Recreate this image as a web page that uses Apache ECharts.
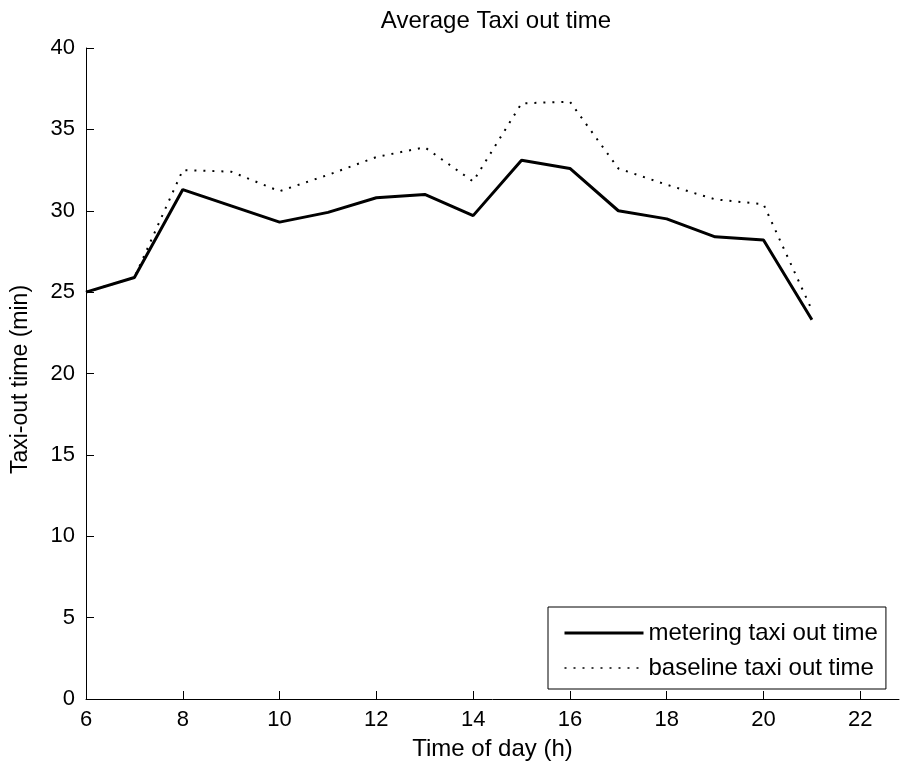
<!DOCTYPE html>
<html>
<head>
<meta charset="utf-8">
<script src="https://cdn.jsdelivr.net/npm/echarts@6/dist/echarts.min.js"></script>
<style>
  html, body { margin: 0; padding: 0; background: #fff; }
  #main { width: 903px; height: 767px; }
</style>
</head>
<body>
<div id="main"></div>
<script>
var hours = [6, 7, 8, 9, 10, 11, 12, 13, 14, 15, 16, 17, 18, 19, 20, 21];
var metering = [25.0, 25.9, 31.3, 30.3, 29.3, 29.9, 30.8, 31.0, 29.7, 33.1, 32.6, 30.0, 29.5, 28.4, 28.2, 23.3];
var baseline = [25.0, 25.9, 32.5, 32.4, 31.2, 32.2, 33.3, 33.9, 31.8, 36.6, 36.7, 32.6, 31.6, 30.7, 30.4, 23.9];
var xTicks = [6, 8, 10, 12, 14, 16, 18, 20, 22];

var font = "'Liberation Sans', Arial, sans-serif";

function pairs(xs, ys) {
    var res = [];
    for (var i = 0; i < xs.length; i++) {
        res.push([xs[i], ys[i]]);
    }
    return res;
}

var myChart = echarts.init(document.getElementById('main'));

var option = {
    animation: false,
    backgroundColor: '#fff',
    title: {
        text: 'Average Taxi out time',
        left: 491,
        top: 4,
        textAlign: 'center',
        textStyle: { fontFamily: font, fontSize: 24, fontWeight: 'normal', color: '#000' }
    },
    grid: { left: 86, right: 4, top: 48, bottom: 68 },
    legend: {
        left: 548,
        top: 607,
        orient: 'vertical',
        backgroundColor: '#fff',
        borderColor: '#000',
        borderWidth: 1,
        borderRadius: 0,
        padding: [14, 8, 9, 15],
        itemGap: 11,
        itemWidth: 79,
        itemHeight: 14,
        itemStyle: { color: 'transparent', borderWidth: 0 },
        textStyle: { fontFamily: font, fontSize: 24, color: '#000' },
        data: [
            { name: 'metering taxi out time', lineStyle: { width: 3 } },
            { name: 'baseline taxi out time', lineStyle: { width: 1.5 } }
        ]
    },
    xAxis: {
        type: 'value',
        min: 6,
        max: 22.8,
        interval: 2,
        name: 'Time of day (h)',
        nameLocation: 'middle',
        nameGap: 38,
        nameTextStyle: { fontFamily: font, fontSize: 24, color: '#000' },
        splitLine: { show: false },
        axisLine: { lineStyle: { color: '#000', width: 1 } },
        axisTick: { inside: true, length: 8, customValues: xTicks, lineStyle: { color: '#000' } },
        axisLabel: { customValues: xTicks, margin: 10, fontFamily: font, fontSize: 22, color: '#000' }
    },
    yAxis: {
        type: 'value',
        min: 0,
        max: 40,
        interval: 5,
        name: 'Taxi-out time (min)',
        nameLocation: 'middle',
        nameGap: 54,
        nameTextStyle: { fontFamily: font, fontSize: 23, color: '#000', padding: [0, 12, 0, 0] },
        splitLine: { show: false },
        axisLine: { show: true, lineStyle: { color: '#000', width: 1 } },
        axisTick: { show: true, inside: true, length: 8, lineStyle: { color: '#000' } },
        axisLabel: { margin: 11, fontFamily: font, fontSize: 22, color: '#000' }
    },
    series: [{
            name: 'metering taxi out time',
            type: 'line',
            symbol: 'none',
            data: pairs(hours, metering),
            lineStyle: { color: '#000', width: 3 },
            itemStyle: { color: '#000' }
        },
        {
            name: 'baseline taxi out time',
            type: 'line',
            symbol: 'none',
            data: pairs(hours, baseline),
            lineStyle: { color: '#000', width: 2, type: [2, 7] },
            itemStyle: { color: '#000' }
        }
    ]
};

myChart.setOption(option);
</script>
</body>
</html>
